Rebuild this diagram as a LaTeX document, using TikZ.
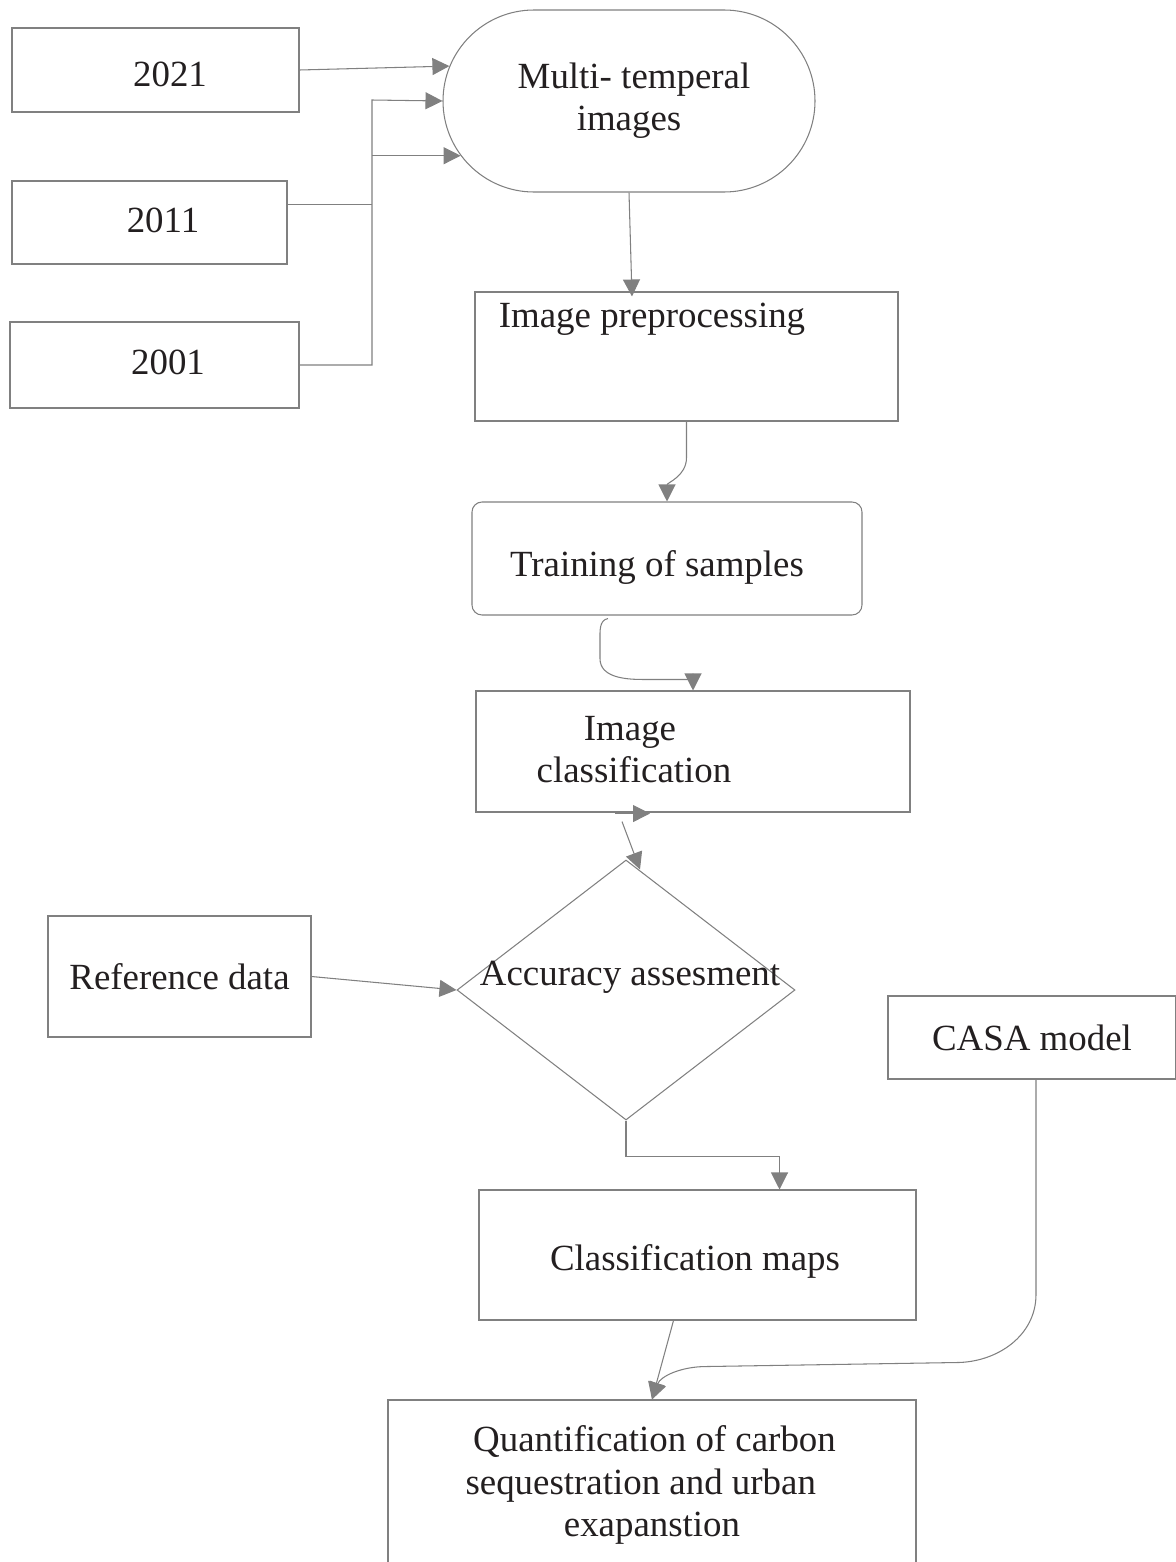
\documentclass[tikz,border=0pt]{standalone}
\usepackage{fontspec}
\setmainfont{Liberation Serif}
\usetikzlibrary{arrows.meta, positioning, shapes.geometric, shapes.misc}
\definecolor{linegray}{RGB}{128,128,128}
\definecolor{inkgray}{RGB}{35,31,32}

\begin{document}
\begin{tikzpicture}[x=0.02cm, y=-0.02cm, >={Triangle[length=0.34cm, width=0.34cm]},
      box/.style={draw=linegray, line width=0.6pt, inner sep=0pt, align=center,
                  font=\fontsize{21}{24}\selectfont, text=inkgray},
      lbl/.style={inner sep=0pt, align=center, font=\fontsize{21}{24}\selectfont, text=inkgray},
      arr/.style={->, draw=linegray, line width=0.6pt},
      wire/.style={draw=linegray, line width=0.6pt}]

    \def\u{0.02cm}  % one pixel of the reference

    \useasboundingbox (0,0) rectangle (1176,1562);
    \clip (0,0) rectangle (1176,1562);

    % Input years
    \node[box, minimum width=287*\u, minimum height=84*\u] (y2021) at (155.5,70) {};
    \node[lbl] (t2021) at (170,74) {2021};
    \node[box, minimum width=275*\u, minimum height=83*\u] (y2011) at (149.5,222.5) {};
    \node[lbl] (t2011) at (163,220) {2011};
    \node[box, minimum width=289*\u, minimum height=86*\u] (y2001) at (154.5,365) {};
    \node[lbl] (t2001) at (168,362) {2001};

    % Main flow
    \node[box, rounded rectangle, minimum width=372*\u, minimum height=182*\u] (multi) at (629,101)
        {\hspace{0.2cm}Multi- temperal\\images};
    \node[box, minimum width=423*\u, minimum height=129*\u] (prep) at (686.5,356.5) {};
    \node[lbl] (preptxt) at (652,319) {Image preprocessing};
    \node[box, rounded corners=0.2cm, minimum width=390*\u, minimum height=113*\u] (train) at (667,558.5) {};
    \node[lbl] (traintxt) at (657,567) {Training of samples};
    \node[box, minimum width=434*\u, minimum height=121*\u] (classif) at (693,751.5) {};
    \node[lbl] (classiftxt) at (630,750) {Image\\\hspace{0.16cm}classification};
    \node[box, diamond, minimum width=338*\u, minimum height=260*\u] (acc) at (626,990) {};
    \node[lbl] (acctxt) at (630,977) {Accuracy assesment};
    \node[box, minimum width=263*\u, minimum height=121*\u] (ref) at (179.5,976.5) {Reference data};
    \node[box, minimum width=288*\u, minimum height=83*\u] (casa) at (1032,1037.5) {CASA model};
    \node[box, minimum width=437*\u, minimum height=130*\u] (maps) at (697.5,1255) {};
    \node[lbl] (mapstxt) at (695,1261) {Classification maps};
    \node[box, minimum width=528*\u, minimum height=170*\u] (quant) at (652,1485)
        {\hspace{0.1cm}Quantification of carbon\\sequestration and urban\rule{0.45cm}{0pt}\\exapanstion};

    % Years into the image stack
    \coordinate (bus) at (372,100);
    \draw[arr] (y2021.east) -- (multi.169);
    \draw[arr] (y2001.east) -| (bus) -- (multi.west);
    \draw[wire] ([shift={(0,-18)}]y2011.east) -- ([shift={(0,-18)}]y2011.east -| bus);
    \draw[arr] (bus |- multi.198) -- (multi.198);

    % Down the flow
    \draw[arr] (multi.south) -- ([shift={(3,5)}]prep.north -| multi.south);
    \draw[arr] (prep.south) -- ++(0,36) to[out=-90,in=90] (train.north);
    \draw[arr] ([shift={(-59,3)}]train.south) to[out=190,in=90] ++(-8,22) -- ++(0,18)
        to[out=-90,in=180] ([shift={(-50,-11)}]classif.north) -| (classif.north);
    \draw[arr] ([shift={(-78,1)}]classif.south) -- ([shift={(-43,1)}]classif.south);
    \draw[arr] ([shift={(-71,9)}]classif.south) -- ([shift={(14,10)}]acc.north);
    \draw[arr] (ref.east) -- (acc.west);
    \draw[arr] (acc.south) -- ++(0,36) -| ([xshift=82*\u]maps.north);
    \draw[arr] ([xshift=-24*\u]maps.south) -- (quant.north);
    \draw[arr] ([xshift=4*\u]casa.south) -- ++(0,215) to[out=-90,in=0] ++(-80,68)
        -- ++(-250,4) to[out=180,in=70] (quant.north);

\end{tikzpicture}
\end{document}
